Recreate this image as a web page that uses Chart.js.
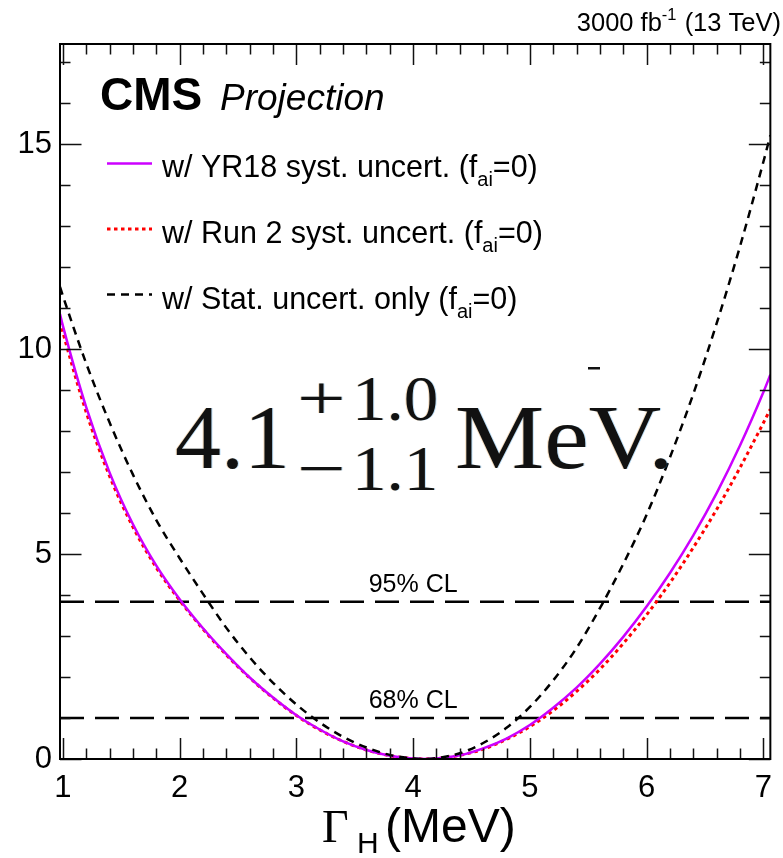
<!DOCTYPE html>
<html>
<head>
<meta charset="utf-8">
<script src="https://cdn.jsdelivr.net/npm/chart.js@4.4.1/dist/chart.umd.min.js"></script>
<style>
  html, body { margin: 0; padding: 0; background: #ffffff; }
  #wrap { width: 783px; height: 858px; position: relative; }
</style>
</head>
<body>
<div id="wrap"><canvas id="scan" width="783" height="858"></canvas></div>
<script>
// Higgs width scan: -2 Delta lnL versus Gamma_H (MeV), 3000 fb^-1 projection
const widthGrid = [0.975, 1.0, 1.2, 1.4, 1.6, 1.8, 2.0, 2.2, 2.4, 2.6, 2.8, 3.0, 3.2, 3.4, 3.6, 3.8, 4.0,
                   4.1,
                   4.2, 4.4, 4.6, 4.8, 5.0, 5.2, 5.4, 5.6, 5.8, 6.0, 6.2, 6.4, 6.6, 6.8, 7.0, 7.06];
const nllYR18 = [10.86, 10.57, 8.58, 6.99, 5.73, 4.72, 3.90, 3.19, 2.56, 1.99, 1.50, 1.07, 0.72, 0.43, 0.22, 0.08, 0.01,
                 0.00,
                 0.01, 0.09, 0.26, 0.50, 0.83, 1.25, 1.74, 2.32, 2.98, 3.72, 4.54, 5.46, 6.49, 7.65, 8.95, 9.38];
const nllRun2 = [10.68, 10.41, 8.46, 6.90, 5.66, 4.67, 3.87, 3.17, 2.54, 1.98, 1.49, 1.06, 0.71, 0.43, 0.22, 0.08, 0.01,
                 0.00,
                 0.01, 0.09, 0.24, 0.48, 0.79, 1.18, 1.65, 2.19, 2.82, 3.52, 4.30, 5.16, 6.09, 7.11, 8.20, 8.54];
const nllStatOnly = [11.52, 11.30, 9.65, 8.21, 6.94, 5.83, 4.90, 4.03, 3.20, 2.48, 1.86, 1.33, 0.89, 0.54, 0.28, 0.10, 0.01,
                     0.00,
                     0.02, 0.14, 0.39, 0.76, 1.27, 1.92, 2.71, 3.68, 4.76, 5.96, 7.36, 8.91, 10.63, 12.51, 14.57, 15.22];
const seriesLabels = ['w/ YR18 syst. uncert.', 'w/ Run 2 syst. uncert.', 'w/ Stat. uncert. only'];
const clLevels = [1.0, 3.84];
const clLabels = ['68% CL', '95% CL'];
const xTickValues = [1, 2, 3, 4, 5, 6, 7];
const yTickValues = [0, 5, 10, 15];
const resultCentral = '4.1';
const resultUp = '1.0';
const resultDown = '1.1';

// axis ranges
const X_MIN = 0.975, X_MAX = 7.06, Y_MIN = 0, Y_MAX = 17.45;

const SANS = '"Liberation Sans", Arial, Helvetica, sans-serif';
const SERIF = '"Liberation Serif", "Times New Roman", serif';

const toPoints = ys => widthGrid.map((x, i) => ({ x, y: ys[i] }));

const curveStyle = [
  { color: '#cc00ff', width: 2.5, dash: [] },
  { color: '#ff0000', width: 3, dash: [3.5, 3.5] },
  { color: '#000000', width: 2.5, dash: [8, 6] }
];
const curveData = [nllYR18, nllRun2, nllStatOnly];

const curveSets = curveData.map((ys, i) => ({
  label: seriesLabels[i],
  data: toPoints(ys),
  showLine: true,
  borderColor: curveStyle[i].color,
  borderWidth: curveStyle[i].width,
  borderDash: curveStyle[i].dash,
  borderCapStyle: 'butt',
  pointRadius: 0,
  cubicInterpolationMode: 'monotone',
  fill: false
}));

const clSets = clLevels.map((lvl, i) => ({
  label: clLabels[i],
  data: [{ x: X_MIN, y: lvl }, { x: X_MAX, y: lvl }],
  showLine: true,
  borderColor: '#000000',
  borderWidth: 2.5,
  borderDash: [24, 11],
  borderCapStyle: 'butt',
  pointRadius: 0,
  fill: false
}));

// black stat-only curve on top, then YR18, then Run 2, CL lines underneath
const datasets = [curveSets[2], curveSets[0], curveSets[1], clSets[0], clSets[1]];

// frame with inward major/minor ticks on all four sides
const framePlugin = {
  id: 'rootFrame',
  afterDatasetsDraw(chart) {
    const { ctx, chartArea: a, scales: { x, y } } = chart;
    ctx.save();
    ctx.strokeStyle = '#111';
    ctx.lineWidth = 1.5;
    ctx.beginPath();
    for (let i = Math.ceil(X_MIN / 0.2 - 1e-9); i * 0.2 <= X_MAX + 1e-9; i++) {
      const v = i * 0.2;
      const major = Math.abs(v - Math.round(v)) < 1e-6;
      const len = major ? 21 : 10.5;
      const px = Math.round(x.getPixelForValue(v)) + 0.5;
      ctx.moveTo(px, a.bottom); ctx.lineTo(px, a.bottom - len);
      ctx.moveTo(px, a.top); ctx.lineTo(px, a.top + len);
    }
    for (let v = Math.ceil(Y_MIN); v <= Y_MAX; v += 1) {
      const major = v % 5 === 0;
      const len = major ? 21.5 : 10.5;
      const py = Math.round(y.getPixelForValue(v)) + 0.5;
      ctx.moveTo(a.left, py); ctx.lineTo(a.left + len, py);
      ctx.moveTo(a.right, py); ctx.lineTo(a.right - len, py);
    }
    ctx.stroke();
    ctx.lineWidth = 2;
    ctx.strokeStyle = '#000';
    ctx.strokeRect(a.left, a.top, a.right - a.left, a.bottom - a.top);
    ctx.restore();
  }
};

// text drawn with a horizontal stretch factor
function stretchText(ctx, str, x0, base, sx) {
  ctx.save();
  ctx.translate(x0, base);
  ctx.scale(sx, 1);
  ctx.fillText(str, 0, 0);
  ctx.restore();
}

// labels, legend, result and axis title
const textPlugin = {
  id: 'rootText',
  afterDraw(chart) {
    const { ctx, chartArea: a, scales: { x, y } } = chart;
    ctx.save();
    ctx.fillStyle = '#000';
    ctx.textBaseline = 'alphabetic';

    // luminosity / energy, right aligned above the frame
    const lumiMain = '3000 fb', lumiSup = '-1', lumiTail = ' (13 TeV)';
    const fMain = '25.5px ' + SANS, fSup = '16.5px ' + SANS;
    ctx.font = fMain;
    const wTail = ctx.measureText(lumiTail).width;
    const wMain = ctx.measureText(lumiMain).width;
    ctx.font = fSup;
    const wSup = ctx.measureText(lumiSup).width + 1;
    const xr = 781;
    const lumiBase = 31;
    ctx.font = fMain;
    ctx.fillText(lumiTail, xr - wTail, lumiBase);
    ctx.font = fSup;
    ctx.fillText(lumiSup, xr - wTail - wSup, lumiBase - 11);
    ctx.font = fMain;
    ctx.fillText(lumiMain, xr - wTail - wSup - wMain, lumiBase);

    // CMS Projection
    ctx.font = 'bold 46px ' + SANS;
    ctx.fillText('CMS', 100, 110);
    ctx.font = 'italic 37px ' + SANS;
    ctx.fillText('Projection', 220, 110);

    // legend
    const rowLine = [163.5, 229, 294.5];
    const rowBase = [176.5, 243, 308.5];
    [0, 1, 2].forEach((r, k) => {
      const st = curveStyle[r];
      ctx.save();
      ctx.strokeStyle = st.color;
      ctx.lineWidth = st.width;
      ctx.setLineDash(st.dash);
      ctx.lineCap = 'butt';
      ctx.beginPath();
      ctx.moveTo(107, rowLine[k]);
      ctx.lineTo(152, rowLine[k]);
      ctx.stroke();
      ctx.restore();
      let tx = 162;
      ctx.font = '30.5px ' + SANS;
      const main = seriesLabels[r] + ' (f';
      ctx.fillText(main, tx, rowBase[k]);
      tx += ctx.measureText(main).width;
      ctx.font = '20px ' + SANS;
      ctx.fillText('ai', tx, rowBase[k] + 9);
      tx += ctx.measureText('ai').width;
      ctx.font = '30.5px ' + SANS;
      ctx.fillText('=0)', tx, rowBase[k]);
    });

    // confidence level labels
    ctx.font = '25px ' + SANS;
    ctx.textAlign = 'center';
    clLevels.forEach((lvl, i) => {
      ctx.fillText(clLabels[i], x.getPixelForValue(4.0), y.getPixelForValue(lvl) - 10);
    });
    ctx.textAlign = 'left';

    // measured width with asymmetric uncertainties
    const drawResult = (dx, color) => {
      ctx.fillStyle = color;
      ctx.font = '92px ' + SERIF;
      ctx.fillText(resultCentral, 175 + dx, 468);
      ctx.font = '64px ' + SERIF;
      stretchText(ctx, '+', 297 + dx, 420, 1.35);
      stretchText(ctx, resultUp, 352 + dx, 420, 1.08);
      stretchText(ctx, '\u2212', 297 + dx, 490, 1.35);
      stretchText(ctx, resultDown, 352 + dx, 490, 1.08);
      ctx.font = '92px ' + SERIF;
      stretchText(ctx, 'MeV.', 455 + dx, 468, 1.09);
    };
    ctx.save();
    ctx.filter = 'blur(0.5px)';
    drawResult(-1, 'rgba(220,140,40,0.3)');
    drawResult(1, 'rgba(40,150,230,0.3)');
    drawResult(0, '#111');
    ctx.fillRect(588, 367, 12, 2.5);
    ctx.restore();

    // x axis title: Gamma_H (MeV)
    ctx.fillStyle = '#000';
    ctx.font = '46px ' + SERIF;
    ctx.fillText('\u0393', 322, 842);
    ctx.font = '30px ' + SANS;
    ctx.fillText('H', 357, 853);
    ctx.font = '48px ' + SANS;
    ctx.fillText('(MeV)', 385, 842);
    ctx.restore();
  }
};

new Chart(document.getElementById('scan'), {
  type: 'scatter',
  data: { datasets },
  options: {
    responsive: false,
    animation: false,
    devicePixelRatio: 1,
    layout: { padding: { top: 44, right: 4, left: 0, bottom: 0 } },
    plugins: { legend: { display: false }, tooltip: { enabled: false } },
    scales: {
      x: {
        type: 'linear',
        min: X_MIN, max: X_MAX,
        grid: { display: false, drawTicks: false },
        border: { display: false },
        afterBuildTicks: s => { s.ticks = xTickValues.map(v => ({ value: v })); },
        afterFit: s => { s.height = 99; },
        ticks: {
          autoSkip: false, maxRotation: 0, padding: 11,
          color: '#000',
          font: { family: SANS, size: 31 },
          callback: v => String(v)
        }
      },
      y: {
        type: 'linear',
        min: Y_MIN, max: Y_MAX,
        grid: { display: false, drawTicks: false },
        border: { display: false },
        afterBuildTicks: s => { s.ticks = yTickValues.map(v => ({ value: v })); },
        afterFit: s => { s.width = 60; },
        ticks: {
          autoSkip: false, padding: 8,
          color: '#000',
          font: { family: SANS, size: 31 },
          callback: v => String(v)
        }
      }
    }
  },
  plugins: [framePlugin, textPlugin]
});
</script>
</body>
</html>
